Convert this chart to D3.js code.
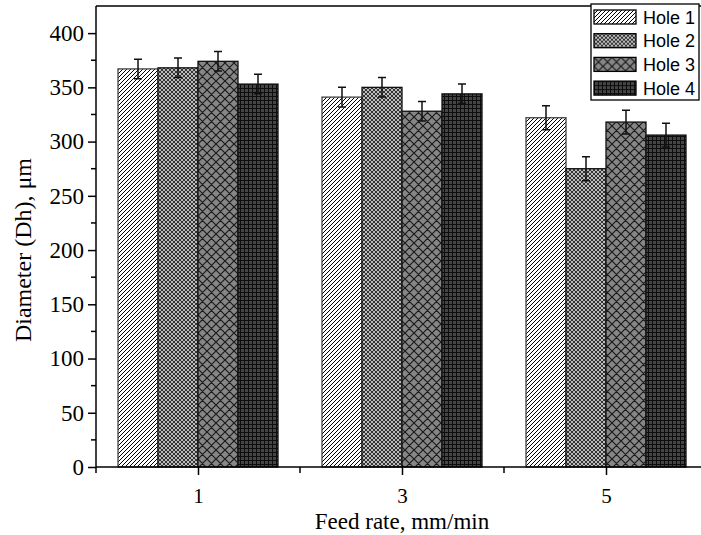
<!DOCTYPE html>
<html>
<head>
<meta charset="utf-8">
<script src="https://cdn.jsdelivr.net/npm/d3@7"></script>
<style>
  body { margin: 0; background: #fff; }
  svg { display: block; }
</style>
</head>
<body>
<div id="chart"></div>
<script>
// feed rates on the x axis, one bar per hole in each group
const feedRates = ["1", "3", "5"];
const holes = ["Hole 1", "Hole 2", "Hole 3", "Hole 4"];

// measured hole diameter (um) and its error
const hole1 = [367, 341, 322];
const hole2 = [368, 350, 275];
const hole3 = [374, 328, 318];
const hole4 = [353, 344, 306];
const hole1Err = [9, 9, 11];
const hole2Err = [9, 9, 11];
const hole3Err = [9, 9, 11];
const hole4Err = [9, 9, 11];

const yTicks = [0, 50, 100, 150, 200, 250, 300, 350, 400];

const width = 701, height = 535;
const margin = {top: 6, left: 96, bottom: 68};
const plotH = height - margin.top - margin.bottom;  // 461

const svg = d3.select("#chart").append("svg")
    .attr("width", width)
    .attr("height", height);

// hatch fills for the four holes
const defs = svg.append("defs");

const p1 = defs.append("pattern").attr("id", "pat1")
    .attr("patternUnits", "userSpaceOnUse").attr("width", 4).attr("height", 4);
p1.append("rect").attr("width", 4).attr("height", 4).attr("fill", "#fff");
p1.append("path").attr("d", "M-1,1 l2,-2 M0,4 l4,-4 M3,5 l2,-2")
    .attr("stroke", "#000").attr("stroke-width", 1);

const p2 = defs.append("pattern").attr("id", "pat2")
    .attr("patternUnits", "userSpaceOnUse").attr("width", 4).attr("height", 4);
p2.append("rect").attr("width", 4).attr("height", 4).attr("fill", "#bbb");
p2.append("path").attr("d", "M-1,1 l2,-2 M0,4 l4,-4 M3,5 l2,-2 M-1,3 l2,2 M0,0 l4,4 M3,-1 l2,2")
    .attr("stroke", "#111").attr("stroke-width", 0.8);

const p3 = defs.append("pattern").attr("id", "pat3")
    .attr("patternUnits", "userSpaceOnUse").attr("width", 9).attr("height", 9);
p3.append("rect").attr("width", 9).attr("height", 9).attr("fill", "#868686");
p3.append("path").attr("d", "M-1,1 l2,-2 M0,9 l9,-9 M8,10 l2,-2 M-1,8 l2,2 M0,0 l9,9 M8,-1 l2,2")
    .attr("stroke", "#1a1a1a").attr("stroke-width", 1.2);

const p4 = defs.append("pattern").attr("id", "pat4")
    .attr("patternUnits", "userSpaceOnUse").attr("width", 4).attr("height", 4);
p4.append("rect").attr("width", 4).attr("height", 4).attr("fill", "#454545");
p4.append("path").attr("d", "M0,0.5 H4 M0.5,0 V4")
    .attr("stroke", "#0d0d0d").attr("stroke-width", 1);

const fills = ["url(#pat1)", "url(#pat2)", "url(#pat3)", "url(#pat4)"];

// scales
const x = d3.scaleLinear()
    .domain([-0.5, 2.5])
    .range([margin.left, margin.left + 612]);

const inner = d3.scaleBand()
    .domain(holes)
    .range([-80, 80])
    .padding(0);

const y = d3.scaleLinear()
    .domain([0, 425])
    .range([margin.top + plotH, margin.top]);

const series = [
  {name: holes[0], values: hole1, errs: hole1Err},
  {name: holes[1], values: hole2, errs: hole2Err},
  {name: holes[2], values: hole3, errs: hole3Err},
  {name: holes[3], values: hole4, errs: hole4Err}
];

const bars = [];
series.forEach((s, si) => {
  s.values.forEach((v, i) => {
    bars.push({si: si, hole: s.name, i: i, value: v, err: s.errs[i]});
  });
});

// bars
svg.append("g").selectAll("rect")
  .data(bars)
  .join("rect")
    .attr("x", d => x(d.i) + inner(d.hole))
    .attr("y", d => y(d.value))
    .attr("width", inner.bandwidth())
    .attr("height", d => y(0) - y(d.value))
    .attr("fill", d => fills[d.si])
    .attr("stroke", d => d.si === 0 ? "#444" : "#111")
    .attr("stroke-width", 1.3);

// error bars
const eb = svg.append("g")
    .attr("stroke", "#111")
    .attr("stroke-width", 1.5)
    .attr("fill", "none");
eb.selectAll("path")
  .data(bars)
  .join("path")
    .attr("d", d => {
      const cx = x(d.i) + inner(d.hole) + inner.bandwidth() / 2;
      const t = y(d.value + d.err), b = y(d.value - d.err);
      return `M${cx - 4},${t}H${cx + 4}M${cx},${t}V${b}M${cx - 4},${b}H${cx + 4}`;
    });

// top frame line
svg.append("line")
    .attr("x1", x(-0.5)).attr("x2", width)
    .attr("y1", y(425)).attr("y2", y(425))
    .attr("stroke", "#000").attr("stroke-width", 1.5);

const serif = "Liberation Serif, Times New Roman, serif";

// y axis
const yAxis = svg.append("g")
    .attr("transform", `translate(${x(-0.5)},0)`)
    .call(d3.axisLeft(y).tickValues(yTicks).tickSize(8).tickPadding(4))
    .call(g => g.select(".domain").remove());
yAxis.append("line")
    .attr("y1", y(0)).attr("y2", y(425))
    .attr("stroke", "#000").attr("stroke-width", 1.5);
yAxis.selectAll(".minor")
  .data(d3.range(25, 425, 50))
  .join("line")
    .attr("class", "minor")
    .attr("x1", -5).attr("x2", 0)
    .attr("y1", d => y(d)).attr("y2", d => y(d))
    .attr("stroke", "#000").attr("stroke-width", 1.5);
yAxis.selectAll(".tick line").attr("stroke-width", 1.5);
yAxis.selectAll("text")
    .attr("font-family", serif)
    .attr("font-size", 23)
    .attr("fill", "#000");

// x axis
const xAxis = svg.append("g")
    .attr("transform", `translate(0,${y(0)})`)
    .call(d3.axisBottom(x).tickValues([0, 1, 2]).tickFormat(i => feedRates[i])
      .tickSize(8).tickPadding(13))
    .call(g => g.select(".domain").remove());
xAxis.append("line")
    .attr("x1", x(-0.5)).attr("x2", width)
    .attr("stroke", "#000").attr("stroke-width", 1.5);
xAxis.selectAll(".minor")
  .data([-0.5, 0.5, 1.5])
  .join("line")
    .attr("class", "minor")
    .attr("x1", d => x(d)).attr("x2", d => x(d))
    .attr("y1", 0).attr("y2", 6)
    .attr("stroke", "#000").attr("stroke-width", 1.5);
xAxis.selectAll(".tick line").attr("stroke-width", 1.5);
xAxis.selectAll("text")
    .attr("font-family", serif)
    .attr("font-size", 21)
    .attr("fill", "#000");

// axis titles
svg.append("text")
    .attr("x", x(1)).attr("y", 529)
    .attr("text-anchor", "middle")
    .attr("font-family", serif)
    .attr("font-size", 23)
    .text("Feed rate, mm/min");

svg.append("text")
    .attr("transform", `translate(31,${y(200)}) rotate(-90)`)
    .attr("text-anchor", "middle")
    .attr("font-family", serif)
    .attr("font-size", 24)
    .text("Diameter (Dh), \u03bcm");

// legend
const legend = svg.append("g");
legend.append("rect")
    .attr("x", 591).attr("y", 4)
    .attr("width", 108).attr("height", 96)
    .attr("fill", "#fff").attr("stroke", "#000").attr("stroke-width", 1.3);
const items = legend.selectAll("g.item")
  .data(holes)
  .join("g")
    .attr("class", "item")
    .attr("transform", (d, i) => `translate(594,${10 + i * 23.7})`);
items.append("rect")
    .attr("width", 42).attr("height", 14)
    .attr("fill", (d, i) => fills[i])
    .attr("stroke", "#000").attr("stroke-width", 1.3);
items.append("text")
    .attr("x", 49).attr("y", 13.5)
    .attr("font-family", "Liberation Sans, Arial, sans-serif")
    .attr("font-size", 18)
    .text(d => d);
</script>
</body>
</html>
